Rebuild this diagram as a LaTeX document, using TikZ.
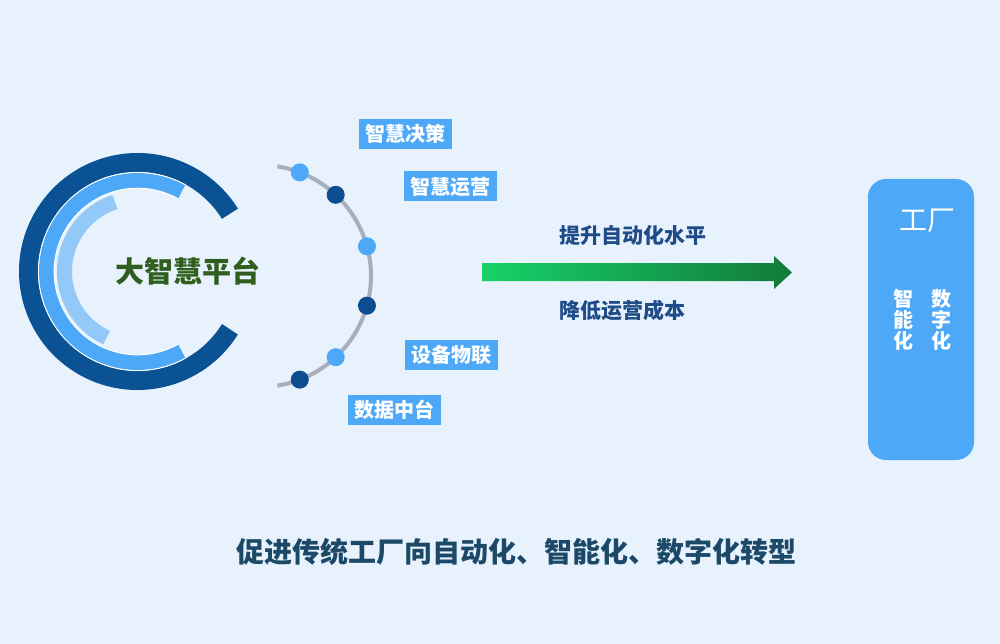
\documentclass[tikz,border=0pt]{standalone}
\usepackage{fontspec}
\setmainfont{Noto Sans CJK SC}
\usetikzlibrary{calc}
\definecolor{bg}{HTML}{E7F2FD}
\definecolor{ringdark}{HTML}{0A5294}
\definecolor{ringmid}{HTML}{4DA8F7}
\definecolor{ringlight}{HTML}{92C9F8}
\definecolor{arcgray}{HTML}{A7AFBF}
\definecolor{dotdark}{HTML}{0B4D8F}
\definecolor{tagblue}{HTML}{4DA8F7}
\definecolor{titlegreen}{HTML}{2F5E1E}
\definecolor{navytext}{HTML}{1F4C88}
\definecolor{bottomtext}{HTML}{1C4968}
\definecolor{greenA}{HTML}{17D169}
\definecolor{greenB}{HTML}{127A3A}
\begin{document}
\begin{tikzpicture}[x=1pt,y=-1pt,
  tag/.style={fill=tagblue,text=white,font=\fontsize{20}{20}\selectfont\bfseries,minimum width=93pt,minimum height=30pt,inner sep=0pt},
  dotL/.style={circle,fill=tagblue,minimum size=18pt,inner sep=0pt},
  dotD/.style={circle,fill=dotdark,minimum size=18pt,inner sep=0pt},
  armlabel/.style={font=\fontsize{21}{21}\selectfont\bfseries,text=navytext,inner sep=0pt,anchor=west},
  vcol/.style={align=center,font=\fontsize{20}{21}\selectfont\bfseries,text=white,inner sep=0pt}]
\useasboundingbox (0,0) rectangle (1000,644);
\fill[bg] (0,0) rectangle (1000,644);
% rings
\coordinate (rc) at (137.5,271.5);
\draw[ringdark,line width=19pt] (rc) ++(32:109) arc[start angle=32,end angle=328,radius=109];
\draw[ringmid,line width=15pt] (rc) ++(61:91) arc[start angle=61,end angle=299,radius=91];
\draw[white,line width=1pt] (rc) ++(61:83.3) arc[start angle=61,end angle=299,radius=83.3];
\draw[white,line width=0.8pt] (rc) ++(61:99.1) arc[start angle=61,end angle=299,radius=99.1];
\draw[ringlight,line width=15pt] (rc) ++(-108:73) arc[start angle=-108,end angle=-245,radius=73];
\node[font=\fontsize{29}{29}\selectfont\bfseries,text=titlegreen,inner sep=0pt] (title) at (188,271) {大智慧平台};
% gray arc with dots
\coordinate (ac) at (260,276);
\draw[arcgray,line width=4pt] (ac) ++(-81:111) arc[start angle=-81,end angle=81,radius=111];
\node[dotL] (d1) at ($(ac)+(-69:111)$) {};
\node[dotD] (d2) at ($(ac)+(-47:111)$) {};
\node[dotL] (d3) at ($(ac)+(-15.5:111)$) {};
\node[dotD] (d4) at ($(ac)+(15.5:111)$) {};
\node[dotL] (d5) at ($(ac)+(47:111)$) {};
\node[dotD] (d6) at ($(ac)+(69:111)$) {};
% tags
\node[tag] (t1) at (405.5,134) {智慧决策};
\node[tag] (t2) at (450.5,186.5) {智慧运营};
\node[tag] (t3) at (451,354.5) {设备物联};
\node[tag] (t4) at (394,410) {数据中台};
% arrow
\shade[left color=greenA,right color=greenB] (482,263) -- (774,263) -- (774,256) -- (792,272.5) -- (774,289) -- (774,281) -- (482,281) -- cycle;
\node[armlabel] (up) at (559,235) {提升自动化水平};
\node[armlabel] (down) at (559,310) {降低运营成本};
% factory box
\node[fill=tagblue,rounded corners=18pt,minimum width=106pt,minimum height=281pt,inner sep=0pt] (box) at (921,319.5) {};
\node[font=\fontsize{28}{28}\selectfont,text=white,inner sep=0pt] (gc) at (927,221) {工厂};
\node[vcol] (v1) at (903,320) {智\\能\\化};
\node[vcol] (v2) at (941,320) {数\\字\\化};
% bottom
\node[font=\fontsize{28}{28}\selectfont\bfseries,text=bottomtext,inner sep=0pt] (bt) at (516.5,552) {促进传统工厂向自动化、智能化、数字化转型};
\end{tikzpicture}
\end{document}
